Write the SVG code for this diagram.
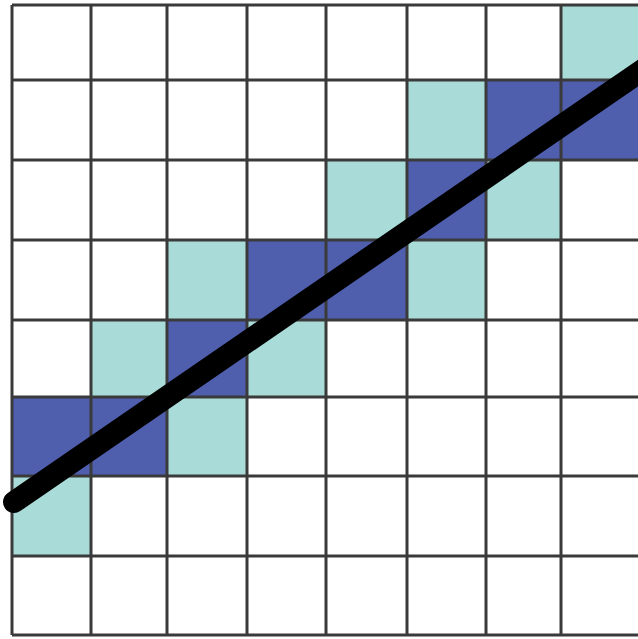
<svg xmlns="http://www.w3.org/2000/svg" width="638" height="639" viewBox="0 0 638 639">
<style>
.l{fill:#a9dcd8}
.d{fill:#4f5fae}
.g{stroke:#3a3a3a;stroke-width:3;fill:none}
</style>
<rect width="638" height="639" fill="#ffffff"/>
<g id="cells">
<rect class="l" x="561" y="5" width="77" height="75"/>
<rect class="l" x="407" y="80" width="79" height="80"/>
<rect class="d" x="486" y="80" width="75" height="80"/>
<rect class="d" x="561" y="80" width="77" height="80"/>
<rect class="l" x="326" y="160" width="81" height="80"/>
<rect class="d" x="407" y="160" width="79" height="80"/>
<rect class="l" x="486" y="160" width="75" height="80"/>
<rect class="l" x="167" y="240" width="80" height="80"/>
<rect class="d" x="247" y="240" width="79" height="80"/>
<rect class="d" x="326" y="240" width="81" height="80"/>
<rect class="l" x="407" y="240" width="79" height="80"/>
<rect class="l" x="91" y="320" width="76" height="77"/>
<rect class="d" x="167" y="320" width="80" height="77"/>
<rect class="l" x="247" y="320" width="79" height="77"/>
<rect class="d" x="12" y="397" width="79" height="79"/>
<rect class="d" x="91" y="397" width="76" height="79"/>
<rect class="l" x="167" y="397" width="80" height="79"/>
<rect class="l" x="12" y="476" width="79" height="80"/>
</g>
<g id="grid" class="g">
<path d="M12 5V635M91 5V635M167 5V635M247 5V635M326 5V635M407 5V635M486 5V635M561 5V635"/>
<path d="M12 5H638M12 80H638M12 160H638M12 240H638M12 320H638M12 397H638M12 476H638M12 556H638M12 635H638"/>
</g>
<g id="connectors">
<line x1="14" y1="502" x2="660" y2="58" stroke="#000000" stroke-width="22" stroke-linecap="round"/>
</g>
</svg>
